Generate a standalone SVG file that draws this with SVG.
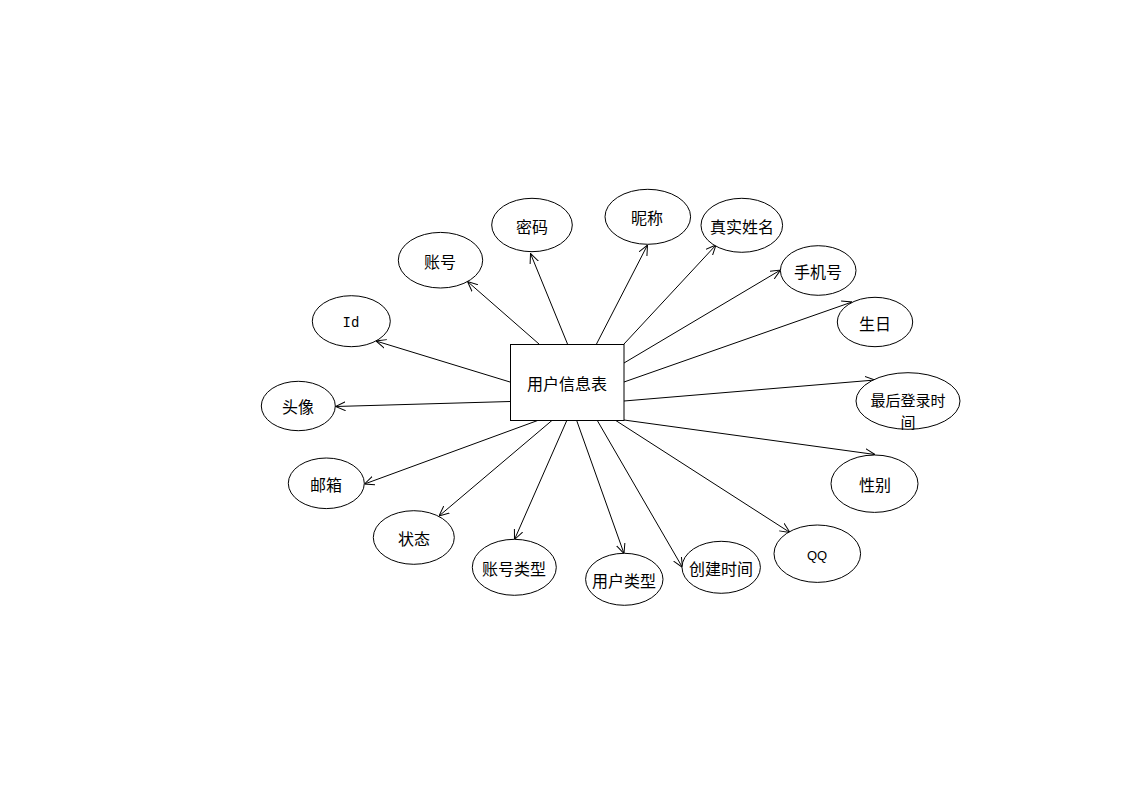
<svg xmlns="http://www.w3.org/2000/svg" width="1123" height="794" viewBox="0 0 1123 794">
  <defs>
    <marker id="arrow" viewBox="0 0 10 10" refX="10" refY="5" markerWidth="10" markerHeight="10" markerUnits="userSpaceOnUse" orient="auto">
      <path d="M0,0.5 L10,5 L0,9.5" fill="none" stroke="#000" stroke-width="1"/>
    </marker>
  </defs>
  <style>
    .attr ellipse { fill: #fff; stroke: #000; stroke-width: 1; }
    .entity rect { fill: #fff; stroke: #000; stroke-width: 1; }
    text { font-family: "Noto Sans CJK SC", "Liberation Sans", sans-serif; font-size: 16px; fill: #000; text-anchor: middle; dominant-baseline: central; }
    .mono { font-family: "Liberation Mono", monospace; font-size: 14px; }
    .wrap { font-size: 15px; }
    .links line { stroke: #000; stroke-width: 1; marker-end: url(#arrow); }
  </style>
  <rect width="1123" height="794" fill="#fff"/>

  <g class="links">
    <line x1="510" y1="382" x2="376" y2="341"/>
    <line x1="539" y1="344" x2="467.5" y2="281.5"/>
    <line x1="567.5" y1="344" x2="530.5" y2="253.5"/>
    <line x1="596.5" y1="344" x2="647.5" y2="245"/>
    <line x1="624" y1="344" x2="716" y2="245"/>
    <line x1="624" y1="363" x2="780.5" y2="270"/>
    <line x1="624" y1="382" x2="852" y2="302"/>
    <line x1="624" y1="401" x2="875" y2="380"/>
    <line x1="624" y1="420" x2="875" y2="454.5"/>
    <line x1="615" y1="420" x2="790" y2="532.5"/>
    <line x1="597" y1="420" x2="682.5" y2="567.5"/>
    <line x1="576.5" y1="420" x2="624" y2="553.5"/>
    <line x1="567" y1="420" x2="514.5" y2="539.5"/>
    <line x1="552.5" y1="420" x2="439" y2="516"/>
    <line x1="539" y1="420" x2="364.5" y2="484"/>
    <line x1="510" y1="401.5" x2="335.5" y2="406.5"/>
  </g>

  <g id="user-info" class="entity">
    <rect x="510.5" y="344.5" width="113.5" height="76"/>
    <text x="567" y="383">用户信息表</text>
  </g>

  <g id="attr-id" class="attr">
    <ellipse cx="351.3" cy="321.2" rx="39" ry="25.5"/>
    <text class="mono" x="351" y="323">Id</text>
  </g>
  <g id="attr-account" class="attr">
    <ellipse cx="440.5" cy="260.2" rx="42.2" ry="27.8"/>
    <text x="440" y="261">账号</text>
  </g>
  <g id="attr-password" class="attr">
    <ellipse cx="532" cy="225" rx="40.3" ry="26.7"/>
    <text x="532" y="226">密码</text>
  </g>
  <g id="attr-nickname" class="attr">
    <ellipse cx="647.8" cy="216.8" rx="42.8" ry="27.5"/>
    <text x="647" y="217">昵称</text>
  </g>
  <g id="attr-realname" class="attr">
    <ellipse cx="741.8" cy="225.3" rx="40.8" ry="27"/>
    <text x="742" y="226">真实姓名</text>
  </g>
  <g id="attr-phone" class="attr">
    <ellipse cx="818.2" cy="270.5" rx="37.8" ry="24.8"/>
    <text x="818" y="271">手机号</text>
  </g>
  <g id="attr-birthday" class="attr">
    <ellipse cx="875" cy="322" rx="37.7" ry="24.7"/>
    <text x="875" y="323">生日</text>
  </g>
  <g id="attr-lastlogin" class="attr">
    <ellipse cx="908" cy="401" rx="52" ry="28.3"/>
    <text class="wrap" x="908" y="399.5">最后登录时</text>
    <text class="wrap" x="908" y="421.5">间</text>
  </g>
  <g id="attr-gender" class="attr">
    <ellipse cx="874.5" cy="483.7" rx="43.5" ry="28.7"/>
    <text x="875" y="484">性别</text>
  </g>
  <g id="attr-qq" class="attr">
    <ellipse cx="817.3" cy="553.7" rx="43.3" ry="28.7"/>
    <text x="817" y="555" style="font-family:'Liberation Sans',sans-serif;font-size:13px">QQ</text>
  </g>
  <g id="attr-created" class="attr">
    <ellipse cx="721.2" cy="567.3" rx="39.2" ry="26"/>
    <text x="721" y="568">创建时间</text>
  </g>
  <g id="attr-usertype" class="attr">
    <ellipse cx="624.3" cy="579.3" rx="38.7" ry="26"/>
    <text x="624" y="580">用户类型</text>
  </g>
  <g id="attr-accounttype" class="attr">
    <ellipse cx="514.3" cy="567.3" rx="42" ry="28"/>
    <text x="514" y="568">账号类型</text>
  </g>
  <g id="attr-status" class="attr">
    <ellipse cx="413.8" cy="537.5" rx="40.5" ry="26.8"/>
    <text x="414" y="538">状态</text>
  </g>
  <g id="attr-email" class="attr">
    <ellipse cx="326.3" cy="483.3" rx="38" ry="25.3"/>
    <text x="326" y="484">邮箱</text>
  </g>
  <g id="attr-avatar" class="attr">
    <ellipse cx="298.3" cy="406" rx="37" ry="24.7"/>
    <text x="298" y="406">头像</text>
  </g>
</svg>
